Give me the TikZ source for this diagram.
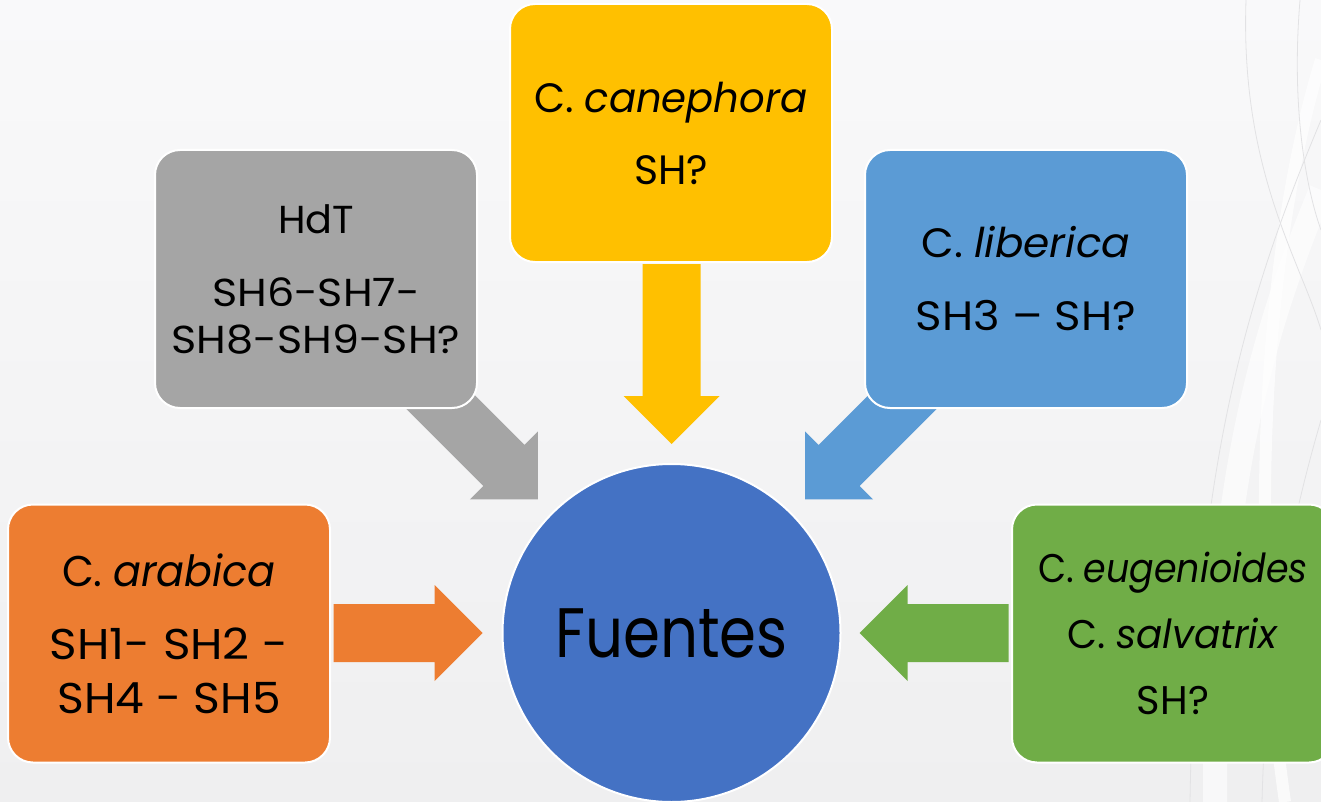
\documentclass[tikz,border=0pt]{standalone}
\usepackage{graphicx}
\usepackage{fontspec}
\setmainfont{Poppins}
\usetikzlibrary{calc}
\definecolor{cOrange}{HTML}{ED7D31}
\definecolor{cGray}{HTML}{A5A5A5}
\definecolor{cYellow}{HTML}{FFC000}
\definecolor{cBlue}{HTML}{5B9BD5}
\definecolor{cGreen}{HTML}{70AD47}
\definecolor{cCircle}{HTML}{4472C4}
\definecolor{bgTop}{HTML}{F9F9FA}
\definecolor{bgBot}{HTML}{EFEFF0}
\definecolor{swirl}{HTML}{E2E2E4}
\newcommand{\hs}[2]{\scalebox{#1}[1]{#2}}
\begin{document}
\begin{tikzpicture}[x=1pt,y=-1pt,
  box/.style={rectangle, rounded corners=25pt, minimum width=322pt, minimum height=258pt,
              draw=white, line width=2pt, align=center, inner sep=0pt, text=black},
  pics/barrow/.style n args={2}{code={
    \fill[#2] (-#1,-29) -- (-48,-29) -- (-48,-48) -- (0,0) -- (-48,48) -- (-48,29) -- (-#1,29) -- cycle;}},
]
% background
\useasboundingbox (0,0) rectangle (1321,802);
\fill[top color=bgTop, bottom color=bgBot] (0,0) rectangle (1321,802);
% swirls
\draw[white, line width=24pt, opacity=0.6] (1321,190) .. controls (1250,360) and (1215,520) .. (1215,802);
\draw[white, line width=12pt, opacity=0.7] (1321,60) .. controls (1260,260) and (1250,560) .. (1285,802);
\draw[swirl, line width=0.8pt] (1246,0) .. controls (1240,170) and (1300,260) .. (1321,330);
\draw[swirl, line width=0.8pt] (1321,120) .. controls (1245,300) and (1195,470) .. (1190,802);
\draw[swirl, line width=0.8pt] (1300,0) .. controls (1290,120) and (1310,200) .. (1321,230);
\draw[swirl, line width=0.8pt] (1321,420) .. controls (1280,560) and (1265,680) .. (1262,802);

% centre
\node[circle, minimum size=338pt, fill=cCircle, draw=white, line width=2pt, inner sep=0pt,
      font=\fontsize{70}{80}\selectfont] (fuentes) at (671.5,633) {\hs{0.85}{Fuentes}};

% arrows (drawn before boxes)
\pic[rotate=0]    at ($(fuentes.center)+(180:189)$) {barrow={149}{cOrange}};
\pic[rotate=-45]  at ($(fuentes.center)+(-135:189)$) {barrow={180}{cGray}};
\pic[rotate=-90]  at ($(fuentes.center)+(-90:189)$) {barrow={180}{cYellow}};
\pic[rotate=-135] at ($(fuentes.center)+(-45:189)$) {barrow={180}{cBlue}};
\pic[rotate=180]  at ($(fuentes.center)+(0:188)$) {barrow={149}{cGreen}};

% boxes
\node[box, fill=cOrange, font=\fontsize{43}{54}\selectfont] (arab) at (169,633.5)
  {\hs{0.96}{C. \textit{arabica}}\\[19pt] \hs{1.09}{SH1- SH2 -}\\ \hs{1.06}{SH4 - SH5}};
\node[box, fill=cGray, font=\fontsize{39}{47}\selectfont] (hdt) at (316,279)
  {\hs{1.02}{HdT}\\[26pt] \hs{1.1}{SH6-SH7-}\\ \hs{1.1}{SH8-SH9-SH?}};
\node[box, fill=cYellow, font=\fontsize{41}{72}\selectfont] (cane) at (671,133)
  {\hs{0.98}{C. \textit{canephora}}\\ SH?};
\node[box, fill=cBlue, font=\fontsize{41}{73}\selectfont] (libe) at (1026,279)
  {\hs{1.03}{C. \textit{liberica}}\\ \hs{1.1}{SH3 – SH?}};
\node[box, fill=cGreen, font=\fontsize{40}{66}\selectfont] (euge) at (1173,633.5)
  {\hs{0.91}{C. \textit{eugenioides}}\\ \hs{0.97}{C. \textit{salvatrix}}\\ SH?};
\end{tikzpicture}
\end{document}
